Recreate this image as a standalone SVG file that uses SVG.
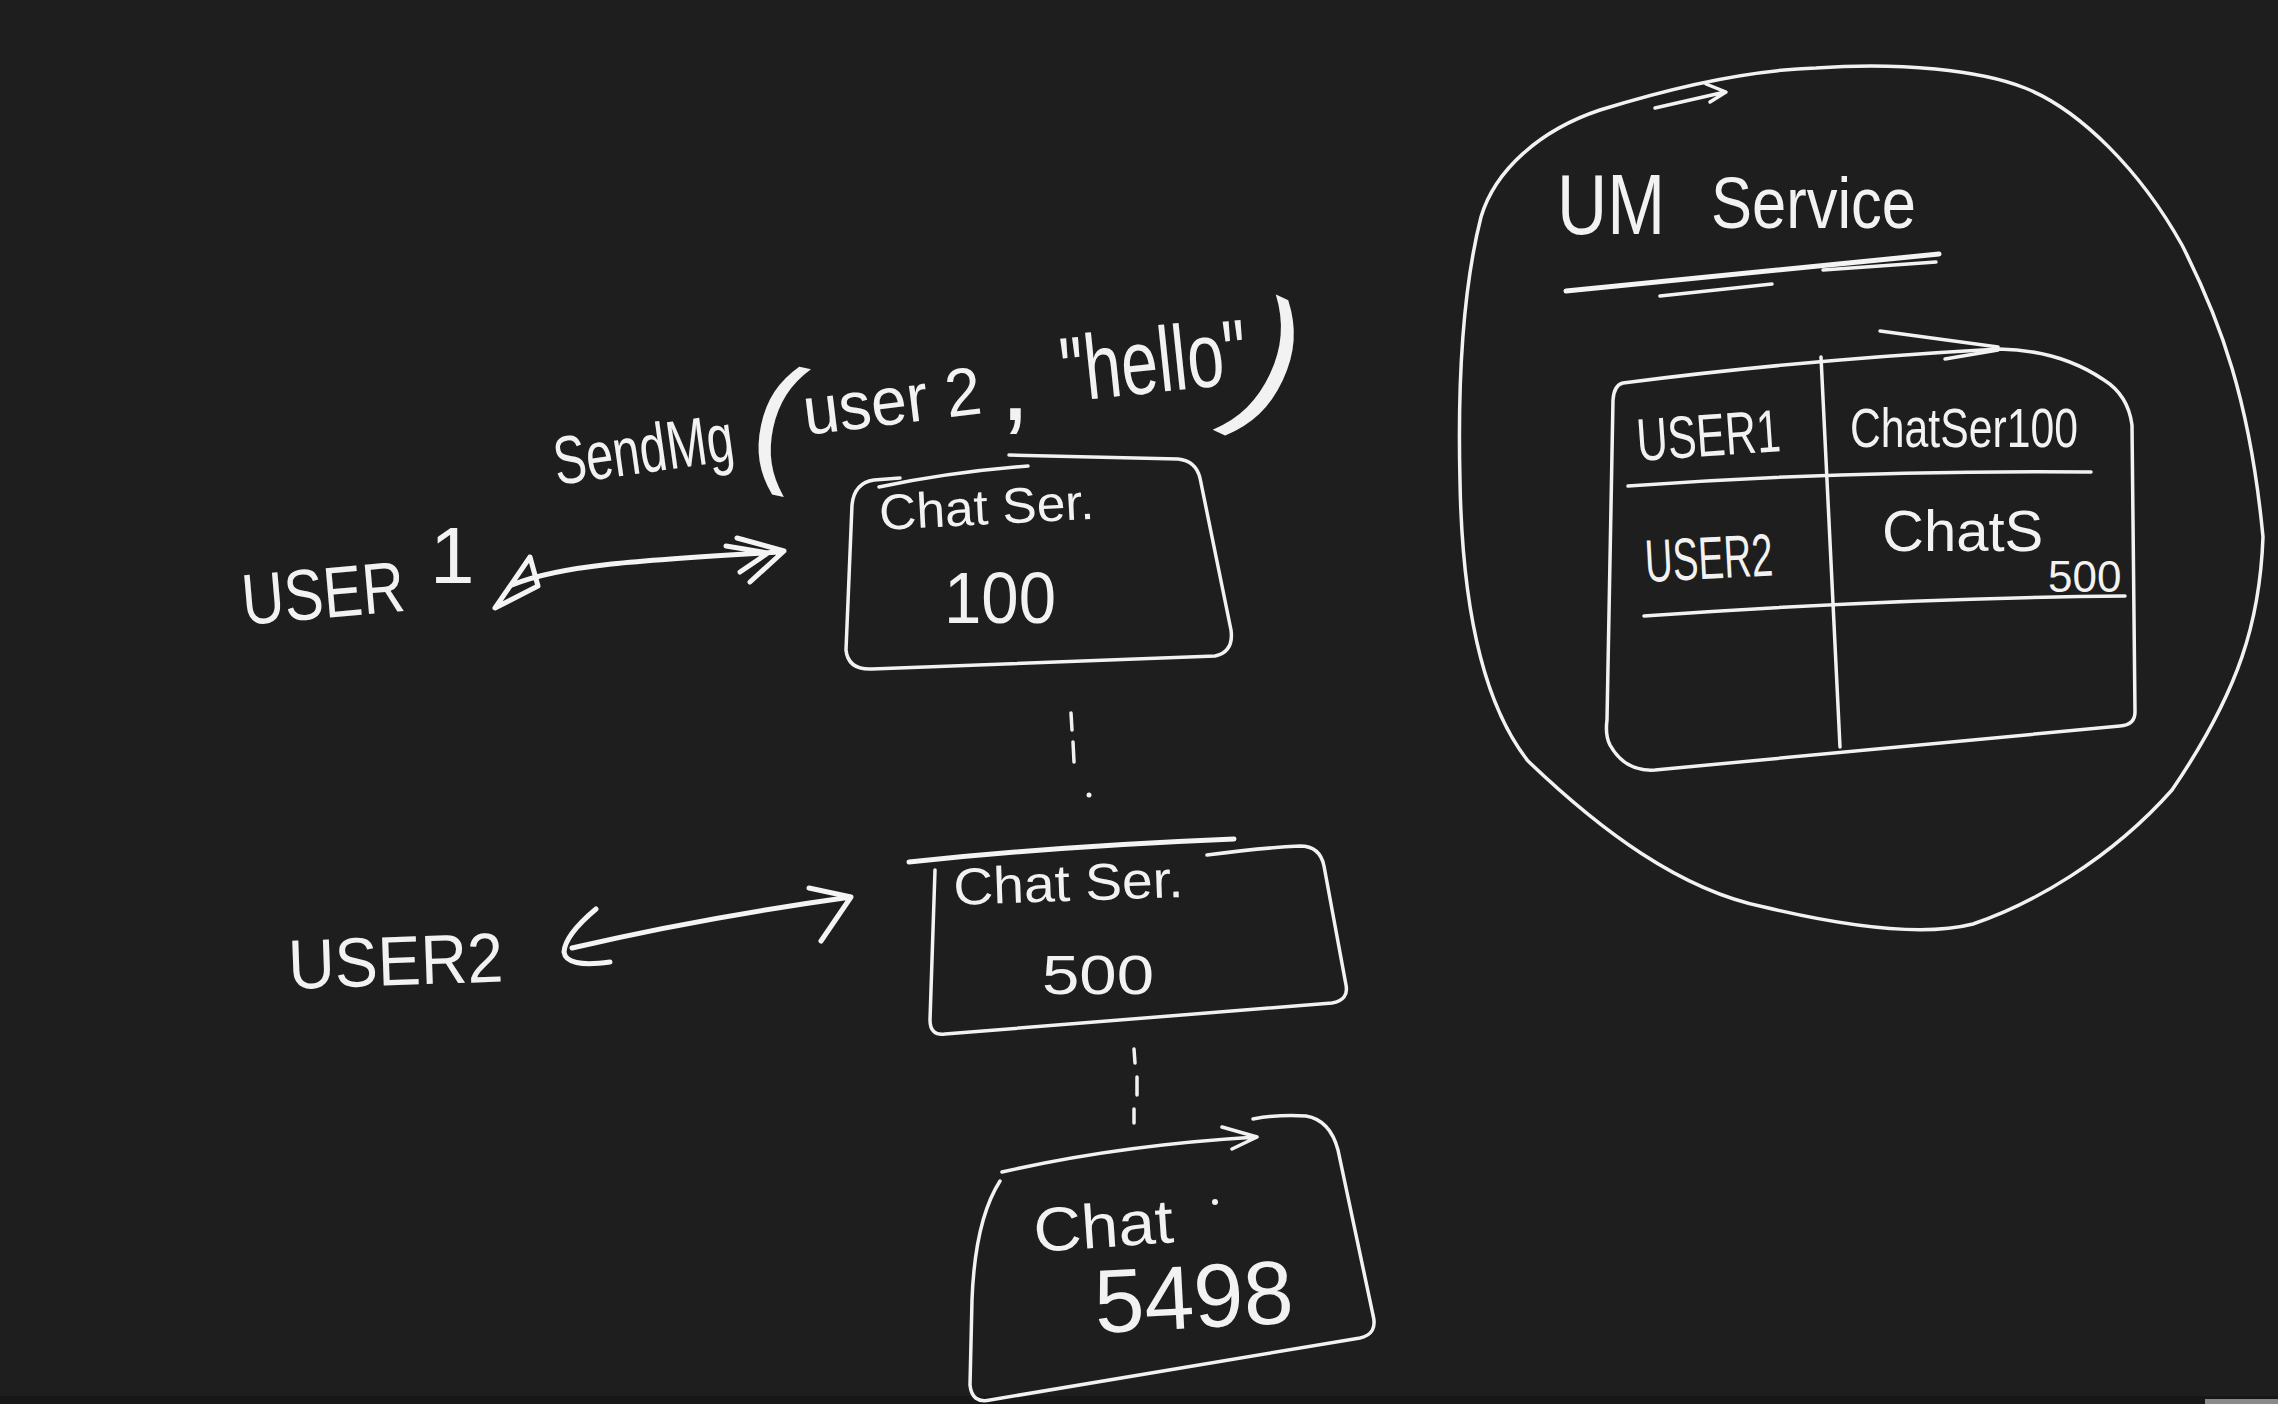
<svg xmlns="http://www.w3.org/2000/svg" width="2278" height="1404" viewBox="0 0 2278 1404">
<style>
.s{fill:none;stroke:#f2f2f2;stroke-width:3.5;stroke-linecap:round;stroke-linejoin:round}
.a{fill:none;stroke:#f4f4f4;stroke-width:5;stroke-linecap:round;stroke-linejoin:round}
.t{fill:#f2f2f2;font-family:"Liberation Sans",Arial,sans-serif}
</style>
<rect width="2278" height="1404" fill="#1e1e1e"/>
<rect x="0" y="1396" width="2278" height="8" fill="#171717"/>
<rect x="2205" y="1399" width="73" height="5" fill="#8a8a8a"/>

<g id="n-user1">
<text class="t" x="244" y="625" font-size="72" textLength="163" lengthAdjust="spacingAndGlyphs" transform="rotate(-5 244 625)">USER</text>
<text class="t" x="430" y="583" font-size="80">1</text>
</g>

<g id="n-user2">
<text class="t" x="289" y="989" font-size="70" textLength="215" lengthAdjust="spacingAndGlyphs" transform="rotate(-2 289 989)">USER2</text>
</g>

<g id="label-sendmsg">
<text class="t" x="557" y="485" font-size="68" textLength="181" lengthAdjust="spacingAndGlyphs" transform="rotate(-8 557 485)">SendMg</text>
<text class="t" x="752" y="464" font-size="140" transform="rotate(12 772 428)">(</text>
<text class="t" x="806" y="435" font-size="68" textLength="179" lengthAdjust="spacingAndGlyphs" transform="rotate(-7 806 435)">user 2</text>
<text class="t" x="1000" y="420" font-size="110">,</text>
<text class="t" x="1064" y="402" font-size="92" textLength="187" lengthAdjust="spacingAndGlyphs" transform="rotate(-6 1064 402)">"hello"</text>
<text class="t" x="1240" y="414" font-size="160" transform="rotate(25 1266 375)">)</text>
</g>

<g id="n-chat100">
<path class="s" d="M879,487 Q950,472 1028,466"/>
<path class="s" d="M1009,455 L1178,459 Q1196,461 1200,478 L1231,630 Q1234,652 1215,656 L872,669 Q848,670 846,650 L852,505 Q854,483 874,480 L900,478"/>
<text class="t" x="880" y="530" font-size="50" textLength="215" lengthAdjust="spacingAndGlyphs" transform="rotate(-3 880 530)">Chat Ser.</text>
<text class="t" x="944" y="623" font-size="72" textLength="112" lengthAdjust="spacingAndGlyphs">100</text>
</g>

<g id="n-chat500">
<path class="a" d="M909,862 Q1060,846 1234,839"/>
<path class="s" d="M1207,855 Q1260,848 1300,846 Q1320,846 1324,866 L1346,985 Q1349,1000 1332,1003 L945,1034 Q930,1036 930,1020 L935,870"/>
<text class="t" x="954" y="905" font-size="52" textLength="230" lengthAdjust="spacingAndGlyphs" transform="rotate(-2 954 905)">Chat Ser.</text>
<text class="t" x="1042" y="994" font-size="55" textLength="112" lengthAdjust="spacingAndGlyphs">500</text>
</g>

<g id="n-chat5498">
<path class="s" d="M1002,1172 Q1120,1145 1257,1137 M1257,1137 L1232,1149 M1257,1137 L1222,1127"/>
<path class="s" d="M1253,1119 Q1280,1114 1306,1116 Q1330,1120 1338,1150 L1373,1315 Q1378,1334 1360,1338 L990,1400 Q972,1404 970,1385 L972,1300 Q975,1220 1000,1181"/>
<text class="t" x="1035" y="1252" font-size="62" textLength="140" lengthAdjust="spacingAndGlyphs" transform="rotate(-4 1035 1252)">Chat</text>
<circle cx="1215" cy="1202" r="3" fill="#f2f2f2"/>
<text class="t" x="1096" y="1333" font-size="90" textLength="199" lengthAdjust="spacingAndGlyphs" transform="rotate(-3 1096 1333)">5498</text>
</g>

<g id="n-um-service">
<path class="s" d="M1816,68 C1900,62 1980,70 2025,88 C2080,110 2140,170 2182,245 C2220,320 2250,400 2263,537 C2260,620 2240,690 2172,790 C2110,860 2030,905 1973,924 C1930,935 1860,930 1764,907 C1680,890 1600,830 1528,761 C1480,700 1462,600 1460,481 C1458,400 1460,300 1481,217 C1495,170 1540,130 1600,110 C1680,85 1750,70 1816,68 Z"/>
<path class="s" d="M1655,108 L1725,92 M1706,84 L1726,92 L1710,102"/>
<text class="t" font-size="80"><tspan x="1557" y="234" font-size="86" textLength="108" lengthAdjust="spacingAndGlyphs">UM</tspan><tspan x="1711" y="228" font-size="72" textLength="205" lengthAdjust="spacingAndGlyphs">Service</tspan></text>
<path class="a" d="M1566,291 L1939,254"/>
<path class="s" d="M1660,296 L1772,284 M1823,270 L1936,262"/>
<g id="n-um-table">
<path class="s" d="M1623,383 Q1800,360 1999,349 Q2060,350 2104,380 Q2128,395 2132,425 L2135,712 Q2135,725 2120,726 L1655,770 Q1625,772 1610,745 Q1605,735 1607,720 L1613,400 Q1614,385 1623,383"/>
<path class="s" d="M1880,331 L1998,347 M1945,359 L1998,350"/>
<path class="s" d="M1821,357 Q1830,550 1840,747"/>
<path class="s" d="M1628,486 Q1850,470 2091,472"/>
<path class="s" d="M1644,616 Q1900,598 2125,596"/>
<text class="t" x="1638" y="461" font-size="60" textLength="144" lengthAdjust="spacingAndGlyphs" transform="rotate(-4 1638 461)">USER1</text>
<text class="t" x="1850" y="447" font-size="55" textLength="228" lengthAdjust="spacingAndGlyphs">ChatSer100</text>
<text class="t" x="1646" y="582" font-size="60" textLength="128" lengthAdjust="spacingAndGlyphs" transform="rotate(-3 1646 582)">USER2</text>
<text class="t" x="1882" y="551" font-size="58">ChatS</text>
<text class="t" x="2048" y="592" font-size="44">500</text>
</g>
</g>

<g id="connectors">
<path id="c-user1-chat100" class="a" d="M512,585 C560,565 640,560 780,552 M737,538 L784,551 L750,582 M726,546 L768,553 L740,572 M530,557 L495,608 L538,586 Z"/>
<path id="c-user2-chat500" class="a" d="M572,948 Q700,918 851,897 M809,888 L851,897 L821,941 M596,909 Q565,935 564,952 Q566,968 610,962"/>
<path id="c-chat100-chat500" class="s" d="M1071,713 L1072,730 M1073,742 L1074,762"/>
<circle cx="1089" cy="795" r="2.5" fill="#f2f2f2"/>
<path id="c-chat500-chat5498" class="s" d="M1134,1049 L1135,1063 M1137,1077 L1137,1095 M1134,1109 L1134,1123"/>
</g>
</svg>
